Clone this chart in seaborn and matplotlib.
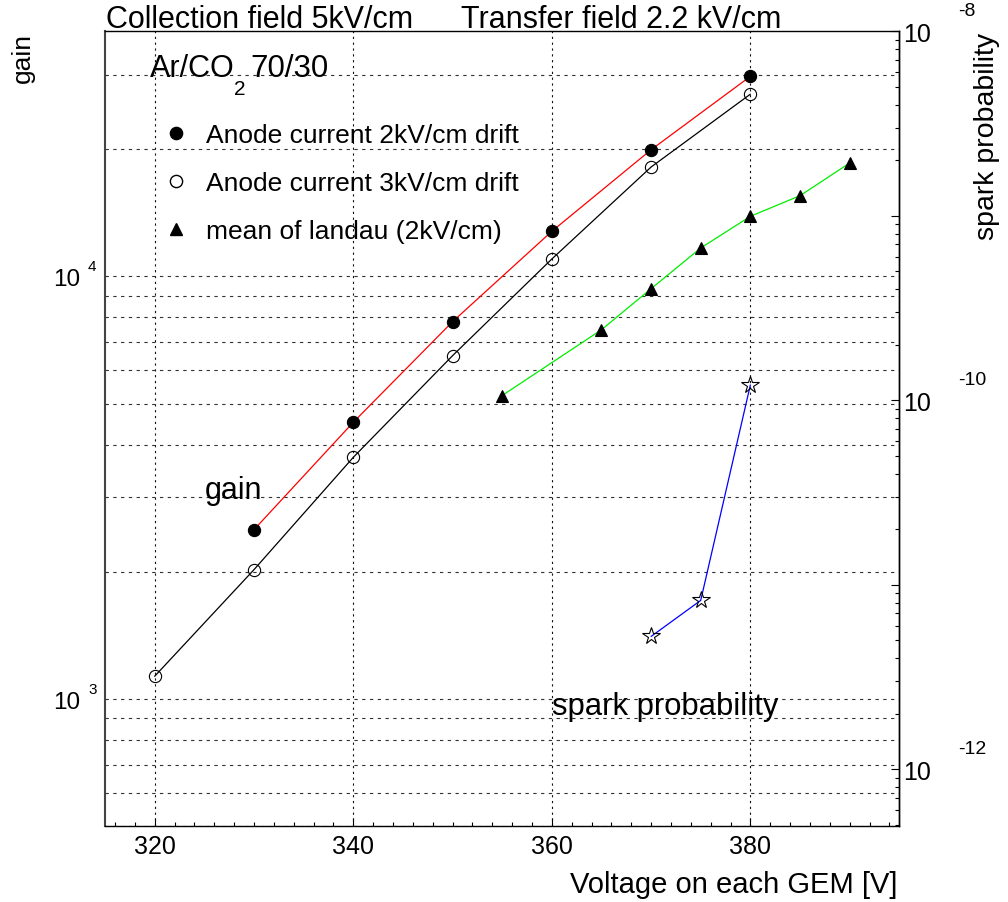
import numpy as np
import pandas as pd
import matplotlib
matplotlib.use("Agg")
import matplotlib.pyplot as plt
import seaborn as sns
from matplotlib.lines import Line2D
from matplotlib.ticker import LogLocator, MultipleLocator, NullFormatter, FixedLocator

# ---------------- data ----------------
volt_2kv = [330, 340, 350, 360, 370, 380]
gain_2kv = [2515, 4515, 7810, 12780, 19930, 29730]

volt_3kv = [320, 330, 340, 350, 360, 370, 380]
gain_3kv = [1132, 2023, 3730, 6490, 10990, 18140, 26980]

volt_landau = [355, 365, 370, 375, 380, 385, 390]
gain_landau = [5225, 7475, 9350, 11670, 13870, 15520, 18540]

volt_spark = [370, 375, 380]
spark_prob = [5.24e-12, 8.22e-12, 1.21e-10]

legend_labels = ["Anode current 2kV/cm drift",
                 "Anode current 3kV/cm drift",
                 "mean of landau (2kV/cm)"]
x_ticks = [320, 340, 360, 380]
gain_label_exps = [3, 4]
spark_label_exps = [-8, -10, -12]

title_left = "Collection field 5kV/cm"
title_right = "Transfer field 2.2 kV/cm"

# ---------------- style ----------------
sns.set_style("white")
plt.rcParams["font.family"] = ["Liberation Sans", "DejaVu Sans"]
plt.rcParams["lines.scale_dashes"] = False
plt.rcParams["text.color"] = "black"
plt.rcParams["axes.labelcolor"] = "black"
plt.rcParams["xtick.color"] = "black"
plt.rcParams["ytick.color"] = "black"

W, H = 1008, 903
fig = plt.figure(figsize=(W / 100, H / 100), dpi=100)
fig.patch.set_facecolor("white")

ax_l, ax_r, ax_t, ax_b = 105, 899.3, 32.3, 827.3
ax = fig.add_axes([ax_l / W, 1 - ax_b / H, (ax_r - ax_l) / W, (ax_b - ax_t) / H])
ax.set_facecolor("white")

def fx(px):
    return px / W

def fy(py):
    return 1 - py / H

# ---------------- series ----------------
mk = 8.8
sns.lineplot(x=volt_2kv, y=gain_2kv, ax=ax, color="red", lw=0.9, marker="o",
             markersize=mk, markerfacecolor="black", markeredgecolor="black",
             mew=0.8, estimator=None, sort=False, legend=False, zorder=4)
sns.lineplot(x=volt_3kv, y=gain_3kv, ax=ax, color="black", lw=0.9, marker="o",
             markersize=mk, markerfacecolor="none", markeredgecolor="black",
             mew=0.8, estimator=None, sort=False, legend=False, zorder=4)
sns.lineplot(x=volt_landau, y=gain_landau, ax=ax, color="#00ee00", lw=0.9, marker="^",
             markersize=mk, markerfacecolor="black", markeredgecolor="black",
             mew=0.8, estimator=None, sort=False, legend=False, zorder=4)

ax.set_yscale("log")
ax.set_xlim(315, 395)
ax.set_ylim(500, 38000)

# ---------------- grid ----------------
ax.yaxis.set_major_locator(LogLocator(base=10))
ax.yaxis.set_minor_locator(LogLocator(base=10, subs=np.arange(2, 10)))
ax.yaxis.set_major_formatter(NullFormatter())
ax.yaxis.set_minor_formatter(NullFormatter())
ax.xaxis.set_major_locator(FixedLocator(x_ticks))
ax.xaxis.set_minor_locator(MultipleLocator(2))
ax.set_axisbelow(True)
ax.grid(which="both", axis="y", color="#333333", lw=0.8, linestyle=(0, (2.4, 3.2)))
ax.grid(which="major", axis="x", color="#111111", lw=0.8, linestyle=(0, (1.6, 2.6)))

ax.tick_params(axis="y", which="both", length=0, left=False, right=False)
ax.tick_params(axis="x", which="major", direction="in", length=6, width=0.8,
               bottom=True, top=False, labelsize=18, pad=5.5, colors="black")
ax.tick_params(axis="x", which="minor", direction="in", length=3, width=0.8,
               bottom=True, top=False, colors="black")
ax.set_xlabel("")
ax.set_ylabel("")

for side in ["top", "bottom", "right"]:
    ax.spines[side].set_color("black")
    ax.spines[side].set_linewidth(1.0)
ax.spines["left"].set_color("#444444")
ax.spines["left"].set_linewidth(1.5)

# left axis labels  10^n
for e in gain_label_exps:
    ax.annotate("10", xy=(0, 10.0 ** e), xycoords=("axes fraction", "data"),
                xytext=(-25, -3), textcoords="offset pixels", ha="right", va="center",
                fontsize=17.5)
    ax.annotate(str(e), xy=(0, 10.0 ** e), xycoords=("axes fraction", "data"),
                xytext=(-17, 10), textcoords="offset pixels", ha="left", va="center",
                fontsize=11)

# ---------------- right axis: spark probability ----------------
ax2 = ax.twinx()
sns.lineplot(x=volt_spark, y=spark_prob, ax=ax2, color="blue", lw=0.9, marker="*",
             markersize=13, markerfacecolor="none", markeredgecolor="black",
             mew=0.8, estimator=None, sort=False, legend=False, zorder=4)
ax2.set_yscale("log")
ax2.set_ylim(4.9e-13, 1e-8)
ax2.set_xlim(315, 395)
ax2.set_ylabel("")
ax2.yaxis.set_major_locator(LogLocator(base=10, numticks=20))
ax2.yaxis.set_minor_locator(LogLocator(base=10, subs=np.arange(2, 10), numticks=20))
ax2.yaxis.set_major_formatter(NullFormatter())
ax2.yaxis.set_minor_formatter(NullFormatter())
ax2.tick_params(axis="y", which="major", direction="in", length=5.6, width=0.8,
                right=True, left=False, colors="black")
ax2.tick_params(axis="y", which="minor", direction="in", length=2.6, width=0.8,
                right=True, left=False, colors="black")
for side in ["top", "bottom", "left"]:
    ax2.spines[side].set_visible(False)
ax2.spines["right"].set_color("black")
ax2.spines["right"].set_linewidth(1.0)
ax2.grid(False)

for e in spark_label_exps:
    ax2.annotate("10", xy=(1, 10.0 ** e), xycoords=("axes fraction", "data"),
                 xytext=(4, -2.5), textcoords="offset pixels", ha="left", va="center",
                 fontsize=18)
    ax2.annotate(str(e), xy=(1, 10.0 ** e), xycoords=("axes fraction", "data"),
                 xytext=(59, 21), textcoords="offset pixels", ha="left", va="center",
                 fontsize=14)

# ---------------- legend ----------------
handles = [
    Line2D([], [], linestyle="none", marker="o", markersize=mk,
           markerfacecolor="black", markeredgecolor="black"),
    Line2D([], [], linestyle="none", marker="o", markersize=mk,
           markerfacecolor="none", markeredgecolor="black"),
    Line2D([], [], linestyle="none", marker="^", markersize=mk,
           markerfacecolor="black", markeredgecolor="black"),
]
fs_leg = 19
leg_px = fs_leg / 0.72
ax.legend(handles, legend_labels, loc="upper left", frameon=False,
          bbox_to_anchor=((175.7 - 0.5 * leg_px - ax_l) / (ax_r - ax_l),
                          1 - (124 - ax_t) / (ax_b - ax_t)),
          borderpad=0, borderaxespad=0, handlelength=1.0,
          handletextpad=(207.7 - 175.7 - 0.5 * leg_px) / leg_px - 0.05,
          labelspacing=0.91, fontsize=fs_leg, labelcolor="black")

# ---------------- texts ----------------
fig.text(fx(106), fy(28.3), title_left, fontsize=22, ha="left", va="baseline")
fig.text(fx(461), fy(28.3), title_right, fontsize=22, ha="left", va="baseline")

fig.text(fx(23), fy(33), "gain", rotation=90, ha="center", va="top", fontsize=19)
fig.text(fx(987), fy(33), "spark probability", rotation=90, ha="center", va="top",
         fontsize=20.5)
fig.text(fx(897), fy(892.7), "Voltage on each GEM [V]", ha="right", va="baseline",
         fontsize=21)

fig.text(fx(150), fy(77), "Ar/CO", fontsize=22, ha="left", va="baseline")
fig.text(fx(234), fy(95), "2", fontsize=15, ha="left", va="baseline")
fig.text(fx(250), fy(77), "70/30", fontsize=22.5, ha="left", va="baseline")

fig.text(fx(205), fy(499), "gain", fontsize=22, ha="left", va="baseline")
fig.text(fx(552), fy(715), "spark probability", fontsize=22.3, ha="left", va="baseline")

fig.savefig("out.png", dpi=100, facecolor="white")
